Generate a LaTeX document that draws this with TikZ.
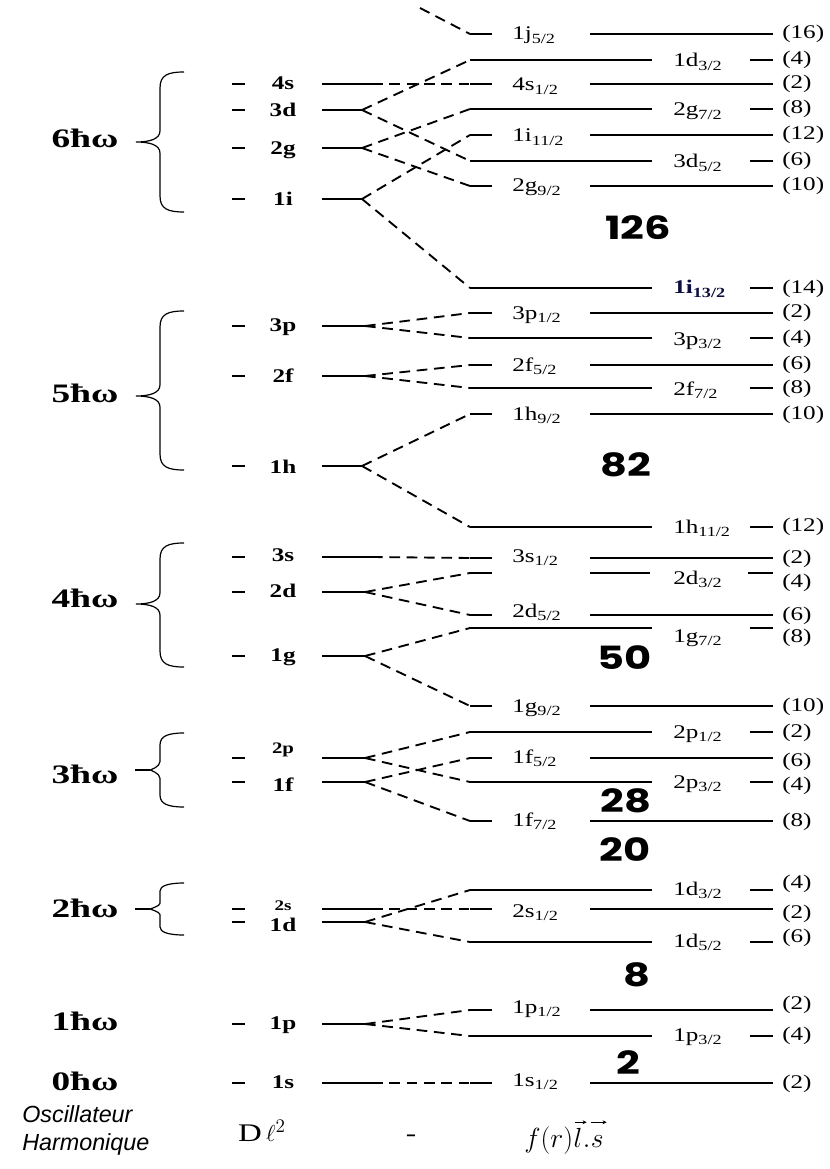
\documentclass[tikz,border=0pt]{standalone}
\usepackage{fontspec}
\usetikzlibrary{arrows.meta}
\setmainfont{Liberation Serif}[FakeStretch=1.3]
\newfontfamily\enfont{Liberation Serif}[FakeStretch=1.4]
\newfontfamily\magicfont{Poppins}[FakeStretch=1.3]
\newfontfamily\oscfont{Liberation Sans}
\definecolor{navy}{rgb}{0.05,0.05,0.25}
\tikzset{
 lvl/.style={line width=1.2pt},
 dsh/.style={line width=1.4pt, dash pattern=on 8pt off 5pt},
 brc/.style={line width=0.9pt},
 rlab/.style={inner sep=0pt, anchor=base west, font=\fontsize{14.5}{14.5}\selectfont},
 llab/.style={inner sep=0pt, anchor=base, font=\fontsize{14.5}{14.5}\selectfont\bfseries},
 slab/.style={inner sep=0pt, anchor=base, font=\fontsize{12}{12}\selectfont\bfseries},
 deg/.style={inner sep=0pt, anchor=base west, font=\fontsize{14.5}{14.5}\selectfont},
 elab/.style={inner sep=0pt, anchor=base, font=\enfont\fontsize{20}{20}\selectfont\bfseries},
 magic/.style={inner sep=0pt, font=\magicfont\fontsize{24}{24}\selectfont\bfseries},
 bot/.style={inner sep=0pt, anchor=base},
 vecarrow/.style={line width=0.6pt, -{Stealth[length=3pt,width=3pt]}},
}
\newcommand\lvsub[1]{\raisebox{-2.5pt}{\fontsize{10.5}{11}\selectfont #1}}
% right level, label on the left: name, y, label, sub, deg, label offset, deg offset
\newcommand\RA[7]{%
 \coordinate (#1) at (470,#2);
 \draw[lvl] (#1) -- (492,#2);
 \node[rlab] (#1-lab) at (512,#2+#6) {#3\lvsub{#4}};
 \draw[lvl] (590,#2) -- (773,#2);
 \node[deg] (#1-deg) at (782,#2+#7) {(#5)};
}
% right level, label on the right
\newcommand\RB[7]{%
 \coordinate (#1) at (470,#2);
 \draw[lvl] (#1) -- (652,#2);
 \node[rlab] (#1-lab) at (673,#2+#6) {#3\lvsub{#4}};
 \draw[lvl] (750,#2) -- (773,#2);
 \node[deg] (#1-deg) at (782,#2+#7) {(#5)};
}
% left level: name, y, label, fork x, label offset
\newcommand\LL[5]{%
 \draw[lvl] (232,#2) -- (245,#2);
 \node[llab] (#1-lab) at (283,#2+#5) {#3};
 \coordinate (#1) at (#4,#2);
 \draw[lvl] (322,#2) -- (#1);
}
% brace: top, tip y, bottom, radius, tip x
\newcommand\Brace[5]{%
 \draw[brc] (184,#1) .. controls (168,#1) and (160,#1+3) .. (160,#1+#4)
   -- (160,#2-#4*0.7) .. controls (160,#2-3) and (150,#2) .. (#5,#2)
   .. controls (150,#2) and (160,#2+3) .. (160,#2+#4*0.7)
   -- (160,#3-#4) .. controls (160,#3-3) and (168,#3) .. (184,#3);
}
\begin{document}
\begin{tikzpicture}[x=0.75pt,y=-0.75pt]
\useasboundingbox (0,0) rectangle (829,1169);

% ---------------- energy labels and braces
\node[elab] (E6) at (85,148) {6ħω};
\node[elab] (E5) at (85,402) {5ħω};
\node[elab] (E4) at (85,607) {4ħω};
\node[elab] (E3) at (85,783) {3ħω};
\node[elab] (E2) at (85,917) {2ħω};
\node[elab] (E1) at (85,1030) {1ħω};
\node[elab] (E0) at (85,1090) {0ħω};

\Brace{72}{142}{212}{16}{136}
\Brace{311}{396}{470}{16}{136}
\Brace{543}{604}{667}{16}{136}
\Brace{733}{770}{807}{12}{150}
\draw[brc] (135,770) -- (150,770);
\Brace{883}{909}{935}{8}{150}
\draw[brc] (135,909) -- (150,909);

% ---------------- left levels
\LL{L4s}{84}{4s}{372}{6}
\LL{L3d}{110}{3d}{362}{7}
\LL{L2g}{148}{2g}{362}{7}
\LL{L1i}{199}{1i}{362}{7}
\LL{L3p}{326}{3p}{365}{5}
\LL{L2f}{376}{2f}{365}{6}
\LL{L1h}{466}{1h}{362}{7}
\LL{L3s}{557}{3s}{372}{4}
\LL{L2d}{592}{2d}{365}{5}
\LL{L1g}{656}{1g}{365}{5}
% 2p (label above its line) and 1f
\draw[lvl] (232,758) -- (245,758);
\node[slab] (L2p-lab) at (283,753) {2p};
\coordinate (L2p) at (365,758);
\draw[lvl] (322,758) -- (L2p);
\LL{L1f}{782}{1f}{365}{9}
% 2s (small label) and 1d
\draw[lvl] (232,909) -- (245,909);
\node[slab] (L2s-lab) at (283,910) {\fontsize{11}{11}\selectfont 2s};
\coordinate (L2s) at (372,909);
\draw[lvl] (322,909) -- (L2s);
\LL{L1d}{922}{1d}{365}{9}
\LL{L1p}{1024}{1p}{365}{5}
\LL{L1s}{1083}{1s}{372}{5}

% ---------------- right levels
\RA{R1j}{34}{1j}{5/2}{16}{6}{5}
\RB{R1dc}{60}{1d}{3/2}{4}{7}{5}
\RA{R4s}{84}{4s}{1/2}{2}{7}{5}
\RB{R2gb}{109}{2g}{7/2}{8}{7}{5}
\RA{R1ia}{135}{1i}{11/2}{12}{7}{5}
\RB{R3d}{161}{3d}{5/2}{6}{7}{5}
\RA{R2ga}{186}{2g}{9/2}{10}{6}{5}
\RB{R1ib}{288}{\textbf{\color{navy}1i}}{\textbf{\color{navy}13/2}}{14}{6}{5}
\RA{R3pa}{313}{3p}{1/2}{2}{6}{4}
\RB{R3pb}{338}{3p}{3/2}{4}{7}{5}
\RA{R2fa}{365}{2f}{5/2}{6}{6}{4}
\RB{R2fb}{388}{2f}{7/2}{8}{7}{5}
\RA{R1ha}{414}{1h}{9/2}{10}{6}{5}
\RB{R1hb}{527}{1h}{11/2}{12}{6}{4}
\RA{R3sb}{558}{3s}{1/2}{2}{4}{5}
% 2d3/2 (broken line)
\coordinate (R2db) at (470,573);
\draw[lvl] (R2db) -- (492,573);
\draw[lvl] (590,573) -- (650,573);
\node[rlab] (R2db-lab) at (673,584) {2d\lvsub{3/2}};
\draw[lvl] (748,573) -- (773,573);
\node[deg] (R2db-deg) at (782,587) {(4)};
\RA{R2da}{615}{2d}{5/2}{6}{2}{5}
\RB{R1gb}{628}{1g}{7/2}{8}{14}{14}
\RA{R1ga}{706}{1g}{9/2}{10}{6}{5}
\RB{R2pa}{732}{2p}{1/2}{2}{6}{5}
\RA{R1fb}{758}{1f}{5/2}{6}{5}{8}
\RB{R2pb}{782}{2p}{3/2}{4}{6}{8}
\RA{R1fa}{821}{1f}{7/2}{8}{5}{5}
\RB{R1db}{890}{1d}{3/2}{4}{5}{-2}
\RA{R2s}{909}{2s}{1/2}{2}{8}{9}
\RB{R1da}{942}{1d}{5/2}{6}{5}{0}
\RA{R1pa}{1010}{1p}{1/2}{2}{3}{-1}
\RB{R1pb}{1036}{1p}{3/2}{4}{5}{4}
\RA{R1s}{1083}{1s}{1/2}{2}{3}{5}

% ---------------- connectors
\coordinate (T7) at (420,8);
\draw[dsh] (T7) -- (R1j);
\draw[dsh] (L4s) -- (R4s);
\draw[dsh] (L3d) -- (R1dc);
\draw[dsh] (L3d) -- (R3d);
\draw[dsh] (L2g) -- (R2gb);
\draw[dsh] (L2g) -- (R2ga);
\draw[dsh] (L1i) -- (R1ia);
\draw[dsh] (L1i) -- (R1ib);
\draw[dsh] (L3p) -- (R3pa);
\draw[dsh] (L3p) -- (R3pb);
\draw[dsh] (L2f) -- (R2fa);
\draw[dsh] (L2f) -- (R2fb);
\draw[dsh] (L1h) -- (R1ha);
\draw[dsh] (L1h) -- (R1hb);
\draw[dsh] (L3s) -- (R3sb);
\draw[dsh] (L2d) -- (R2db);
\draw[dsh] (L2d) -- (R2da);
\draw[dsh] (L1g) -- (R1gb);
\draw[dsh] (L1g) -- (R1ga);
\draw[dsh] (L2p) -- (R2pa);
\draw[dsh] (L2p) -- (R2pb);
\draw[dsh] (L1f) -- (R1fb);
\draw[dsh] (L1f) -- (R1fa);
\draw[dsh] (L2s) -- (R2s);
\draw[dsh] (L1d) -- (R1db);
\draw[dsh] (L1d) -- (R1da);
\draw[dsh] (L1p) -- (R1pa);
\draw[dsh] (L1p) -- (R1pb);
\draw[dsh] (L1s) -- (R1s);

% ---------------- magic numbers
\node[magic] (M126) at (638,228) {126};
\node[magic] (M82) at (626,465) {82};
\node[magic] (M50) at (625,658) {50};
\node[magic] (M28) at (626,801) {28};
\node[magic] (M20) at (625,850) {20};
\node[magic] (M8) at (637,975) {8};
\node[magic] (M2) at (628,1063) {2};

% ---------------- bottom row
\node[inner sep=0pt, anchor=base west, font=\oscfont\itshape\fontsize{17.5}{17.5}\selectfont] (osc1) at (22,1122) {Oscillateur};
\node[inner sep=0pt, anchor=base west, font=\oscfont\itshape\fontsize{17.5}{17.5}\selectfont] (osc2) at (22,1150) {Harmonique};
\node[bot, font=\fontsize{19}{19}\selectfont] (dl) at (262,1141) {D\,$\ell^2$};
\node[bot, font=\fontsize{18}{18}\selectfont] (minus) at (411,1141) {-};
\node[inner sep=0pt, anchor=base west, font=\fontsize{21}{21}\selectfont] (lsf) at (524,1147) {$f(r)$};
\node[inner sep=0pt, anchor=base west, font=\fontsize{21}{21}\selectfont] (lsl) at (lsf.base east) {$l$};
\node[inner sep=0pt, anchor=base west, font=\fontsize{21}{21}\selectfont] (lsd) at (lsl.base east) {$.$};
\node[inner sep=0pt, anchor=base west, font=\fontsize{21}{21}\selectfont] (lss) at (lsd.base east) {$s$};
\coordinate (arrY) at ([yshift=4pt]lsl.north);
\path (lsl.west |- arrY) coordinate (lA) (lsl.east |- arrY) coordinate (lB)
      (lss.west |- arrY) coordinate (sA) (lss.east |- arrY) coordinate (sB);
\draw[vecarrow] ([xshift=1pt]lA) -- ([xshift=3pt]lB);
\draw[vecarrow] ([xshift=0.5pt]sA) -- ([xshift=2pt]sB);
\end{tikzpicture}
\end{document}
